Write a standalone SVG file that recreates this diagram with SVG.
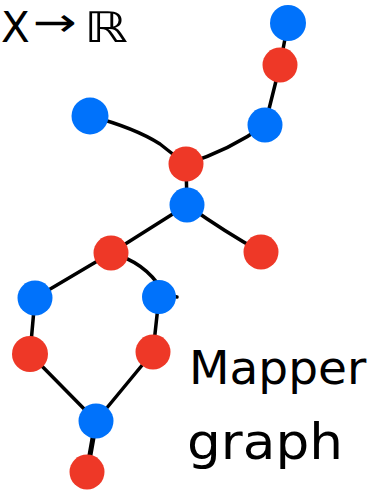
<svg xmlns="http://www.w3.org/2000/svg" width="373" height="490" viewBox="0 0 373 490">
  <style>
    .edge { fill: none; stroke: #000; stroke-width: 3.5; stroke-linecap: round; }
    .blue { fill: #0072fb; }
    .red { fill: #ee3827; }
    .hand { font-family: "DejaVu Sans", "Liberation Sans", sans-serif; fill: #000; }
  </style>
  <rect width="373" height="490" fill="#fff"/>

  <!-- title: map from the space to the reals -->
  <g id="title" class="hand">
    <text x="1" y="42" font-size="42">X</text>
    <text x="33" y="36" font-size="40" textLength="44" lengthAdjust="spacingAndGlyphs">→</text>
    <text x="84" y="42" font-size="42" textLength="44" lengthAdjust="spacingAndGlyphs">ℝ</text>
  </g>

  <!-- connectors -->
  <g id="edges" class="edge">
    <path d="M288,23 L280,65"/>
    <path d="M280,65 L265,125"/>
    <path d="M265,125 Q230,150 186,164"/>
    <path d="M90,116 Q135,128 160,144 Q175,156 186,164"/>
    <path d="M186,164 L187,205"/>
    <path d="M187,205 Q225,232 261,252"/>
    <path d="M187,205 L111,253"/>
    <path d="M111,253 L35,298"/>
    <path d="M111,253 Q145,262 162,290 Q170,296 177,297"/>
    <path d="M35,298 L30,354"/>
    <path d="M159,297 L153,352"/>
    <path d="M30,354 L96,421"/>
    <path d="M153,352 L96,421"/>
    <path d="M96,421 L87,472" stroke-width="5"/>
  </g>

  <!-- nodes -->
  <g id="n1"><circle class="blue" cx="288" cy="23" r="18"/></g>
  <g id="n2"><circle class="red" cx="280" cy="65" r="17.5"/></g>
  <g id="n3"><circle class="blue" cx="265" cy="125" r="17.5"/></g>
  <g id="n4"><circle class="blue" cx="90" cy="116" r="18.5"/></g>
  <g id="n5"><circle class="red" cx="186" cy="164" r="17.5"/></g>
  <g id="n6"><circle class="blue" cx="187" cy="205" r="17.5"/></g>
  <g id="n7"><circle class="red" cx="261" cy="252" r="17.5"/></g>
  <g id="n8"><circle class="red" cx="111" cy="253" r="17.5"/></g>
  <g id="n9"><circle class="blue" cx="35" cy="298" r="17.5"/></g>
  <g id="n10"><circle class="blue" cx="159" cy="297" r="17"/></g>
  <g id="n11"><circle class="red" cx="30" cy="354" r="18"/></g>
  <g id="n12"><circle class="red" cx="153" cy="352" r="17.5"/></g>
  <g id="n13"><circle class="blue" cx="96" cy="421" r="17.5"/></g>
  <g id="n14"><circle class="red" cx="87" cy="472" r="17.5"/></g>

  <!-- caption -->
  <g id="caption" class="hand">
    <text x="189" y="384" font-size="47">Mapper</text>
    <text x="187" y="459" font-size="50" textLength="156" lengthAdjust="spacingAndGlyphs">graph</text>
  </g>
</svg>
